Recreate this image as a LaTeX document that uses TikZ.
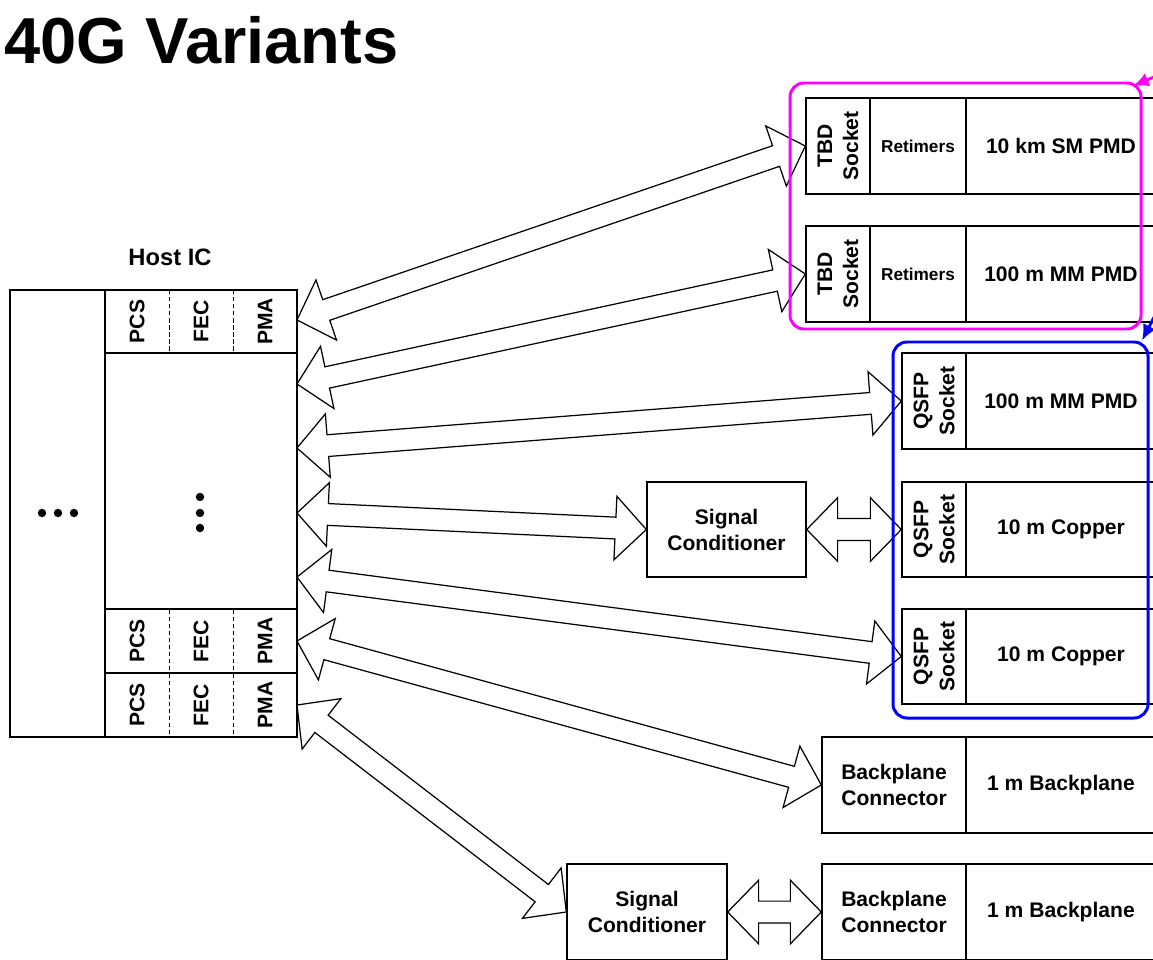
\documentclass[tikz,border=0pt]{standalone}
\usepackage{fontspec}
\setmainfont{Liberation Sans}
\usepackage{tikz}
\usetikzlibrary{positioning}
\usetikzlibrary{calc}
\usetikzlibrary{arrows.meta}

\definecolor{grpmagenta}{RGB}{255,0,255}
\definecolor{grpblue}{RGB}{0,0,255}

\newcommand{\headlen}{17.6pt}
\newcommand{\headwid}{18.1pt}
\newcommand{\shaftwid}{6.2pt}
% outline double arrow from #1 to #2
\newcommand{\blockarrow}[2]{%
  \coordinate (ba) at ($(#1)!\headlen!(#2)$);
  \coordinate (bb) at ($(#2)!\headlen!(#1)$);
  \draw[fatarrow] (#1) -- ($(ba)!\headwid!90:(#2)$) -- ($(ba)!\shaftwid!90:(#2)$)
    -- ($(bb)!\shaftwid!90:(#2)$) -- ($(bb)!\headwid!90:(#2)$) -- (#2)
    -- ($(bb)!\headwid!-90:(#2)$) -- ($(bb)!\shaftwid!-90:(#2)$)
    -- ($(ba)!\shaftwid!-90:(#2)$) -- ($(ba)!\headwid!-90:(#2)$) -- cycle;}

\begin{document}
\begin{tikzpicture} [x=0.02cm, y=-0.02cm,
            box/.style={draw=black, line width=0.8pt, fill=white, inner sep=0pt},
            wh/.style 2 args={minimum width=#1*0.02cm, minimum height=#2*0.02cm},
            vlab/.style={rotate=90, inner sep=0pt},
            fatarrow/.style={draw=black, line width=0.7pt, fill=white, line join=miter},
            grp/.style={line width=1.7pt, rounded corners=0.28cm, inner sep=0pt},
            pointer/.style={line width=1.7pt, -{Latex[length=9pt,width=8pt]}},
            small/.style={font=\bfseries\fontsize{9.8}{12}\selectfont},
         every node/.append style={align=center, font=\bfseries\fontsize{12}{14.8}\selectfont}]
\useasboundingbox (0,0) rectangle (1153,960);
\clip (0,0) rectangle (1153,960);

\node (title) at (4,63) [anchor=base west, inner sep=0pt, font=\bfseries\fontsize{37}{40}\selectfont] {40G Variants};

% host IC
\node (hostlab) at (170,257) [font=\bfseries\fontsize{13.5}{16}\selectfont] {Host IC};
\node (hostL) at (57.5,513.5) [box, wh={95}{447}] {};
\node (hostM) at (201,481) [box, wh={192}{256}] {};
\node (rowA) at (201,321.5) [box, wh={192}{63}] {};
\node (rowB) at (201,641) [box, wh={192}{64}] {};
\node (rowC) at (201,705) [box, wh={192}{64}] {};
\foreach \y/\n in {321.5/A,641/B,705/C} {
  \node (pcs\n) at (137,\y) [vlab] {PCS};
  \node (fec\n) at (201,\y) [vlab] {FEC};
  \node (pma\n) at (265,\y) [vlab] {PMA};
  \draw[line width=0.5pt, dash pattern=on 2.5pt off 1.5pt] (169,\y-31.5) -- (169,\y+31.5);
  \draw[line width=0.5pt, dash pattern=on 2.5pt off 1.5pt] (233,\y-31.5) -- (233,\y+31.5);
}
\fill (42,513) circle (2.4pt) (58,513) circle (2.4pt) (74,513) circle (2.4pt);
\fill (200,497) circle (2.4pt) (200,513) circle (2.4pt) (200,528) circle (2.4pt);

\coordinate (h1) at (297,320);
\coordinate (h2) at (297,384);
\coordinate (h3) at (297,448);
\coordinate (h4) at (297,513);
\coordinate (h5) at (297,577);
\coordinate (h6) at (297,641);
\coordinate (h7) at (297,705);

% modules
\node (tbdA) at (838,146) [box, wh={64}{96}] {};
\node (tbdAt) at (tbdA) [vlab] {TBD\\Socket};
\node (retA) at (918,146) [box, wh={96}{96}, small] {Retimers};
\node (pmdA) at (1061,146) [box, wh={190}{96}] {10 km SM PMD};
\node (tbdB) at (838,274) [box, wh={64}{96}] {};
\node (tbdBt) at (tbdB) [vlab] {TBD\\Socket};
\node (retB) at (918,274) [box, wh={96}{96}, small] {Retimers};
\node (pmdB) at (1061,274) [box, wh={190}{96}] {100 m MM PMD};

\node (qsfpA) at (934,401) [box, wh={64}{96}] {};
\node (qsfpAt) at (qsfpA) [vlab] {QSFP\\Socket};
\node (mediaA) at (1061,401) [box, wh={190}{96}] {100 m MM PMD};
\node (qsfpB) at (934,529.5) [box, wh={64}{95}] {};
\node (qsfpBt) at (qsfpB) [vlab] {QSFP\\Socket};
\node (mediaB) at (1061,529.5) [box, wh={190}{95}] {10 m Copper};
\node (qsfpC) at (934,656.5) [box, wh={64}{95}] {};
\node (qsfpCt) at (qsfpC) [vlab] {QSFP\\Socket};
\node (mediaC) at (1061,656.5) [box, wh={190}{95}] {10 m Copper};

\node (bpA) at (894,785) [box, wh={144}{96}] {Backplane\\Connector};
\node (bmA) at (1061,785) [box, wh={190}{96}] {1 m Backplane};
\node (bpB) at (894,912) [box, wh={144}{96}] {Backplane\\Connector};
\node (bmB) at (1061,912) [box, wh={190}{96}] {1 m Backplane};

\node (scA) at (726.5,529.5) [box, wh={159}{95}] {Signal\\Conditioner};
\node (scB) at (647,912) [box, wh={160}{96}] {Signal\\Conditioner};

% links
\blockarrow{h1}{tbdA.west}
\blockarrow{h2}{tbdB.west}
\blockarrow{h3}{qsfpA.west}
\blockarrow{h4}{scA.west}
\blockarrow{h5}{qsfpC.west}
\blockarrow{h6}{bpA.west}
\blockarrow{h7}{scB.west}
\blockarrow{scA.east}{qsfpB.west}
\blockarrow{scB.east}{bpB.west}

% groups
\node (grpA) at (965.5,206) [grp, draw=grpmagenta, wh={351}{246}] {};
\node (grpB) at (1020.5,530) [grp, draw=grpblue, wh={255}{376}] {};
\coordinate (magsrc) at (1175,68);
\coordinate (bluesrc) at (1162,302);
\draw[pointer, grpmagenta] (magsrc) -- ($(grpA.north east)+(-9.5,4.5)$);
\draw[pointer, grpblue] (bluesrc) -- ($(grpB.north east)+(-7.5,0)$);
\end{tikzpicture}
\end{document}
